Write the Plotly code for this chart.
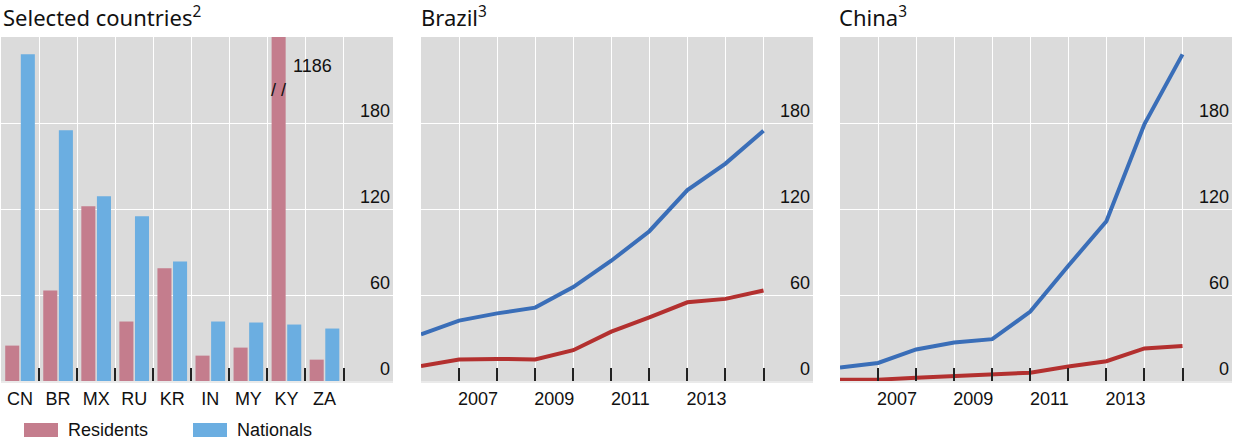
import plotly.graph_objects as go

# ---------------- data ----------------
countries = ["CN", "BR", "MX", "RU", "KR", "IN", "MY", "KY", "ZA"]
residents = [24.7, 63.2, 121.9, 41.5, 78.6, 17.7, 23.3, 1186, 14.9]
nationals = [228, 175, 128.9, 114.9, 83.4, 41.5, 40.8, 39.4, 36.6]

years = [2006, 2007, 2008, 2009, 2010, 2011, 2012, 2013, 2014, 2015]
brazil_nationals = [32.5, 42.1, 47.2, 51.2, 65.5, 83.9, 104.5, 133.2, 151.7, 174.6]
brazil_residents = [10.5, 15.0, 15.4, 15.0, 21.5, 34.4, 44.4, 54.9, 57.3, 63.1]
china_nationals = [9.4, 12.6, 22.0, 26.9, 29.2, 48.4, 80.4, 111.5, 179.3, 227.9]
china_residents = [0.9, 0.9, 2.3, 3.7, 5.1, 5.8, 10.1, 13.8, 22.7, 24.5]

y_ticks = [0, 60, 120, 180]
year_labels = ["2007", "2009", "2011", "2013"]

# ---------------- style ----------------
W, H = 1235, 444
BG = "#DBDBDB"
RES_BAR = "#C47D8D"
NAT_BAR = "#6BAEE1"
RES_LINE = "#B3302F"
NAT_LINE = "#3A6EB8"
TXT = "#111111"
TICKFONT = dict(family="Liberation Sans, Arial, sans-serif", size=18, color=TXT)
TITLEFONT = dict(family="Noto Sans, Open Sans, sans-serif", size=22, color=TXT)

def px_x(p):
    return p / W

def px_y(p):
    return 1 - p / H

panels = [(1, 393), (421, 813), (840, 1232)]
ydom = [px_y(381), px_y(37)]

fig = go.Figure()

fig.add_trace(go.Bar(x=list(range(len(countries))), y=residents, name="Residents",
                     marker=dict(color=RES_BAR, line=dict(width=0)),
                     xaxis="x", yaxis="y", showlegend=False))
fig.add_trace(go.Bar(x=list(range(len(countries))), y=nationals, name="Nationals",
                     marker=dict(color=NAT_BAR, line=dict(width=0)),
                     xaxis="x", yaxis="y", showlegend=False))

for xa, ya, nat, res in [("x2", "y2", brazil_nationals, brazil_residents),
                         ("x3", "y3", china_nationals, china_residents)]:
    fig.add_trace(go.Scatter(x=years, y=res, mode="lines", name="Residents",
                             line=dict(color=RES_LINE, width=4),
                             xaxis=xa, yaxis=ya, showlegend=False))
    fig.add_trace(go.Scatter(x=years, y=nat, mode="lines", name="Nationals",
                             line=dict(color=NAT_LINE, width=4),
                             xaxis=xa, yaxis=ya, showlegend=False))

def yaxis_cfg(anchor):
    return dict(domain=ydom, anchor=anchor, range=[0, 240], side="right",
                tickmode="array", tickvals=y_ticks, ticklabelposition="inside top",
                tickfont=TICKFONT, showgrid=True, gridcolor="white", gridwidth=1,
                zeroline=False, showline=False, ticks="", fixedrange=True)

def minor_cfg(vals):
    return dict(tickmode="array", tickvals=vals, showgrid=True, gridcolor="white",
                gridwidth=1, ticks="inside", ticklen=13, tickcolor="#222222", tickwidth=1.5)

fig.update_layout(
    width=W, height=H, margin=dict(l=0, r=0, t=0, b=0),
    paper_bgcolor="white", plot_bgcolor=BG,
    barmode="group", bargap=0.18, bargroupgap=0.1,
    xaxis=dict(domain=[px_x(panels[0][0]), px_x(panels[0][1])], anchor="y",
               range=[-0.5, 9.8], tickmode="array", tickvals=list(range(len(countries))),
               ticktext=countries, ticks="", showgrid=False, tickfont=TICKFONT,
               minor=minor_cfg([i + 0.5 for i in range(len(countries))]),
               showline=True, linecolor="#EAEAEA", linewidth=2, zeroline=False,
               fixedrange=True),
    yaxis=yaxis_cfg("x"),
    xaxis2=dict(domain=[px_x(panels[1][0]), px_x(panels[1][1])], anchor="y2",
                range=[2006, 2016.3], tickmode="array",
                tickvals=[int(t) + 0.5 for t in year_labels], ticktext=year_labels,
                ticks="", showgrid=False, tickfont=TICKFONT,
                minor=minor_cfg(years[1:]),
                showline=True, linecolor="#EAEAEA", linewidth=2, zeroline=False,
                fixedrange=True),
    yaxis2=yaxis_cfg("x2"),
    xaxis3=dict(domain=[px_x(panels[2][0]), px_x(panels[2][1])], anchor="y3",
                range=[2006, 2016.3], tickmode="array",
                tickvals=[int(t) + 0.5 for t in year_labels], ticktext=year_labels,
                ticks="", showgrid=False, tickfont=TICKFONT,
                minor=minor_cfg(years[1:]),
                showline=True, linecolor="#EAEAEA", linewidth=2, zeroline=False,
                fixedrange=True),
    yaxis3=yaxis_cfg("x3"),
)

# titles
titles = ["Selected countries<sup>2</sup>", "Brazil<sup>3</sup>", "China<sup>3</sup>"]
title_x = [3, 421, 839]
for t, xp in zip(titles, title_x):
    fig.add_annotation(text=t, xref="paper", yref="paper", x=px_x(xp), y=px_y(34),
                       xanchor="left", yanchor="bottom", showarrow=False,
                       font=TITLEFONT, xshift=-2)

# broken-bar marker and value for KY
fig.add_annotation(text="1186", xref="x", yref="y", x=7.12, y=220, xanchor="left",
                   yanchor="middle", showarrow=False, font=TICKFONT)
fig.add_annotation(text="/ /", xref="x", yref="y", x=6.8, y=203, xanchor="center",
                   yanchor="middle", showarrow=False, font=TICKFONT)

# legend (manual)
legend_items = [("Residents", RES_BAR, 24), ("Nationals", NAT_BAR, 193)]
for name, col, x0 in legend_items:
    fig.add_shape(type="rect", xref="paper", yref="paper",
                  x0=px_x(x0), x1=px_x(x0 + 34), y0=px_y(437), y1=px_y(423),
                  fillcolor=col, line=dict(width=0))
    fig.add_annotation(text=name, xref="paper", yref="paper", x=px_x(x0 + 42),
                       y=px_y(430), xanchor="left", yanchor="middle", showarrow=False,
                       font=TICKFONT)

fig.write_html("out.html", config={"displayModeBar": False},
               post_script="document.body.style.margin='0';document.body.style.overflow='hidden';")
